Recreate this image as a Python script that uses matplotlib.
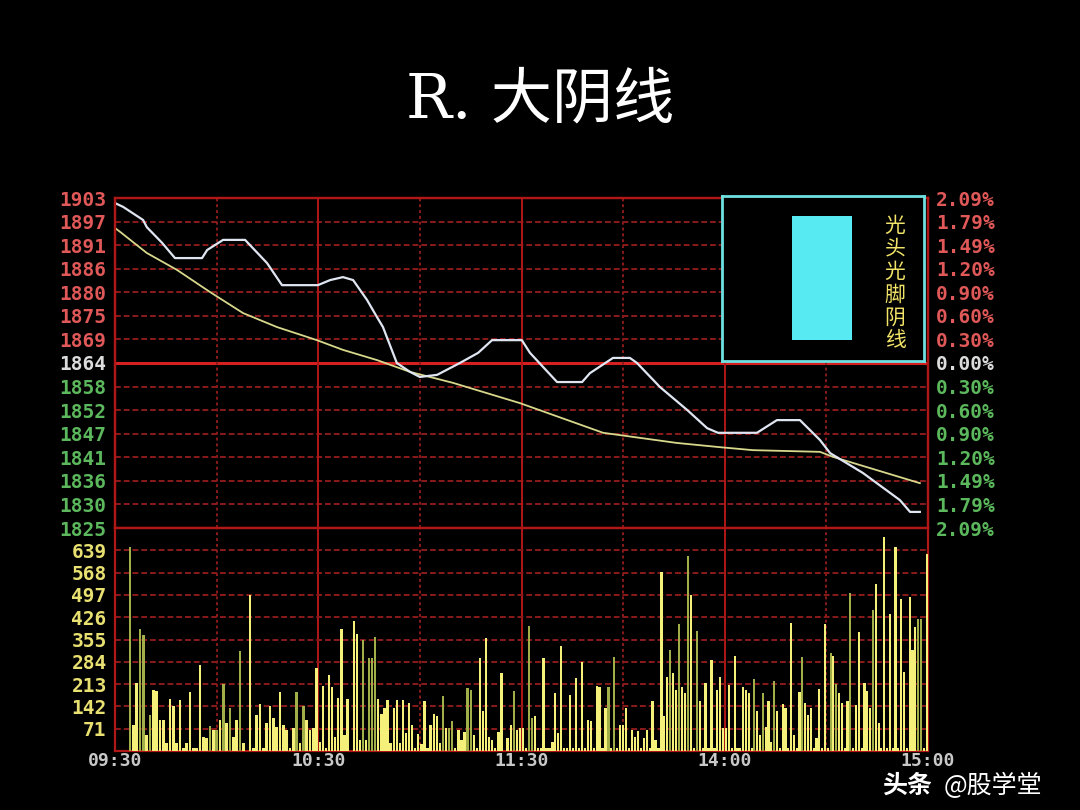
import numpy as np
import matplotlib
matplotlib.use("Agg")
import matplotlib.pyplot as plt
from matplotlib.patches import Rectangle

plt.rcParams['font.family'] = ['DejaVu Sans', 'Noto Sans CJK SC']

# ---------------- data ----------------
title = "R. 大阴线"
legend_label = "光头光脚阴线"
watermark_a = "头条"
watermark_b = "@股学堂"

price_top = 1903
price_bottom = 1825
price_labels = ["1903", "1897", "1891", "1886", "1880", "1875", "1869", "1864",
                "1858", "1852", "1847", "1841", "1836", "1830", "1825"]
pct_labels = ["2.09%", "1.79%", "1.49%", "1.20%", "0.90%", "0.60%", "0.30%", "0.00%",
              "0.30%", "0.60%", "0.90%", "1.20%", "1.49%", "1.79%", "2.09%"]
vol_labels = ["639", "568", "497", "426", "355", "284", "213", "142", "71"]
vol_step = 71
time_labels = ["09:30", "10:30", "11:30", "14:00", "15:00"]
session_minutes = 240

price_minutes = [0, 2.4, 8.3, 9.4, 13.9, 17.7, 25.7, 27.2, 31.9, 38.4, 44.9, 49.3, 59.9,
                 63.5, 67.3, 70.3, 74.4, 77.3, 79.1, 83.2, 87.1, 90.0, 95.1, 101.8, 107.2,
                 111.3, 120.1, 122.5, 130.5, 137.9, 140.2, 147.0, 152.0, 154.1, 160.9,
                 168.9, 174.8, 178.0, 189.5, 195.4, 202.2, 208.1, 211.1, 220.8, 231.7,
                 234.7, 237.6]
price_values = [1901.8, 1900.9, 1897.8, 1896.1, 1892.4, 1888.8, 1888.8, 1890.7, 1893.1,
                1893.1, 1887.6, 1882.4, 1882.4, 1883.6, 1884.3, 1883.6, 1878.9, 1874.9,
                1872.5, 1864.0, 1861.9, 1860.7, 1861.2, 1864.0, 1866.4, 1869.4, 1869.4,
                1866.4, 1859.5, 1859.5, 1861.6, 1865.2, 1865.2, 1864.0, 1858.3, 1852.9,
                1848.6, 1847.5, 1847.5, 1850.5, 1850.5, 1845.8, 1842.7, 1838.0, 1831.6,
                1828.8, 1828.8]

avg_minutes = [0, 1.5, 9.4, 18.3, 28.0, 37.8, 47.8, 59.6, 67.3, 77.3, 87.1, 99.8, 119.6,
               144.1, 165.9, 178.6, 188.3, 208.1, 212.0, 237.6]
avg_values = [1895.9, 1895.0, 1890.0, 1886.0, 1880.8, 1875.8, 1872.5, 1869.4, 1867.1,
              1864.7, 1861.9, 1859.3, 1854.5, 1847.5, 1845.1, 1844.1, 1843.4, 1843.0,
              1841.8, 1835.6]

vol_0930 = [0, 0, 0, 0, 650, 83, 218, 388, 369, 52, 115, 195, 190, 99, 99, 25, 165, 142,
            25, 161, 10, 25, 187, 10, 10, 274, 46, 41, 80, 68, 68, 99, 214, 89, 136, 46,
            99, 319, 25, 0, 496, 10, 115, 150, 10, 89, 144, 105, 78, 189, 83, 68, 10, 73,
            187, 25, 144, 99, 68, 73, 263]
vol_1030 = [30, 208, 10, 242, 203, 46, 168, 390, 52, 165, 0, 415, 374, 36, 353, 36, 295,
            295, 364, 165, 118, 136, 163, 25, 136, 161, 25, 161, 57, 152, 83, 10, 55, 23,
            158, 10, 83, 118, 110, 25, 176, 73, 73, 97, 10, 66, 36, 62, 199, 195, 52, 10,
            295, 126, 359, 46, 36, 10, 62, 248, 0, 41, 83, 192, 68, 73]
vol_1130 = [73, 10, 398, 105, 112, 10, 10, 295, 10, 10, 30, 186, 57, 334, 10, 10, 179, 10,
            232, 10, 284, 10, 99, 94, 10, 207, 205, 10, 136, 203, 10, 300, 10, 83, 83, 136,
            10, 68, 46, 64, 10, 41, 68, 10, 158, 36, 10, 570, 110, 237, 321, 248, 195, 404,
            205, 184, 620, 496, 10, 383, 158, 10, 218, 10, 290, 10, 195, 237, 73]
vol_1400 = [73, 210, 10, 302, 10, 10, 203, 195, 184, 10, 228, 126, 52, 186, 78, 158, 30,
            224, 126, 10, 150, 136, 10, 406, 52, 10, 189, 298, 154, 115, 136, 10, 41, 197,
            10, 403, 10, 311, 302, 214, 186, 152, 10, 158, 503, 10, 147, 380, 10, 218, 190,
            136, 450, 533, 89, 10, 681, 10, 436, 10, 651, 10, 483, 250, 10, 489, 321, 396,
            419, 419, 10, 626]
# indices of bars drawn in the darker (selling) tone
down_0930 = [4, 7, 8, 10, 28, 30, 32, 34, 37, 54, 56]
down_1030 = [14, 16, 17, 18, 40, 42, 43, 48, 49, 63]
down_1130 = [2, 3, 29, 31, 50, 53, 56, 59]
down_1400 = [10, 13, 17, 27, 37, 39, 44, 52, 68, 69]

# ---------------- style ----------------
BG = "black"
GRID_SOLID = "#b01818"
GRID_DASH = "#8a1a1a"
RED_TXT = "#e05858"
WHITE_TXT = "#dcdcdc"
GREEN_TXT = "#5cb85c"
YEL_TXT = "#e8e070"
MONO = dict(family="DejaVu Sans Mono", weight="bold", size=14)

W, H = 1080, 810
fig = plt.figure(figsize=(W / 100, H / 100), dpi=100, facecolor=BG)


def fx(px):
    return px / W


def fy(py):
    return 1 - py / H


L, R = 115, 928
ax = fig.add_axes([fx(L), fy(528), fx(R - L), (528 - 198) / H], facecolor=BG)
axv = fig.add_axes([fx(L), fy(751), fx(R - L), (751 - 528) / H], facecolor=BG)

# ---- price panel ----
ax.set_xlim(0, session_minutes)
ax.set_ylim(price_bottom, price_top)
ticks = np.linspace(price_top, price_bottom, len(price_labels))
mid = len(price_labels) // 2
for i, t in enumerate(ticks):
    if i == mid:
        ax.axhline(t, color="#d42020", lw=2.2, zorder=1)
    elif 0 < i < len(ticks) - 1:
        ax.axhline(t, color=GRID_DASH, lw=1.4, ls=(0, (3, 1.5)), zorder=1)
for k in range(1, 8):
    m = k * 30
    if k % 2 == 0:
        ax.axvline(m, color=GRID_SOLID, lw=1.4, zorder=1)
        axv.axvline(m, color=GRID_SOLID, lw=1.4, zorder=1)
    else:
        ax.axvline(m, color=GRID_DASH, lw=1.4, ls=(0, (1.5, 1.5)), zorder=1)
        axv.axvline(m, color=GRID_DASH, lw=1.4, ls=(0, (1.5, 1.5)), zorder=1)

ax.plot(avg_minutes, avg_values, color="#d8d88c", lw=1.3, zorder=3)
ax.plot(price_minutes, price_values, color="#dfe6f2", lw=1.6, zorder=4)

ax.set_xticks([])
ax.set_yticks(ticks)
ax.set_yticklabels(price_labels, **MONO)
ax.tick_params(axis="y", length=0, pad=6)
for i, lab in enumerate(ax.get_yticklabels()):
    lab.set_color(RED_TXT if i < mid else (WHITE_TXT if i == mid else GREEN_TXT))

axr = ax.twinx()
axr.set_ylim(price_bottom, price_top)
axr.set_yticks(ticks)
axr.set_yticklabels(pct_labels, **MONO)
axr.tick_params(axis="y", length=0, pad=6)
for i, lab in enumerate(axr.get_yticklabels()):
    lab.set_color(RED_TXT if i < mid else (WHITE_TXT if i == mid else GREEN_TXT))

for a in (ax, axr):
    for s in a.spines.values():
        s.set_color(GRID_SOLID)
        s.set_linewidth(1.6)

# ---- volume panel ----
vmax = vol_step * (len(vol_labels) + 1)
axv.set_xlim(0, session_minutes)
axv.set_ylim(0, vmax)
vticks = [vol_step * (len(vol_labels) - i) for i in range(len(vol_labels))]
for t in vticks:
    axv.axhline(t, color=GRID_DASH, lw=1.4, ls=(0, (3, 1.5)), zorder=1)

blocks = [vol_0930, vol_1030, vol_1130, vol_1400]
downs = [down_0930, down_1030, down_1130, down_1400]
for k, (vals, dn) in enumerate(zip(blocks, downs)):
    n = len(vals)
    xs = k * 60 + (np.arange(n) + 0.5) * 60 / n
    cols = ["#a2ae48" if i in dn else "#f4f07a" for i in range(n)]
    axv.bar(xs, vals, width=0.75 * 60 / n, color=cols, zorder=3)

axv.set_yticks(vticks)
axv.set_yticklabels(vol_labels, **MONO)
axv.tick_params(axis="y", length=0, pad=6, colors=YEL_TXT)
axv.set_xticks([0, 60, 120, 180, 240])
axv.set_xticklabels(time_labels, family="DejaVu Sans Mono", weight="bold", size=13)
axv.tick_params(axis="x", length=0, pad=1, colors="#c8c8c8")
for s in axv.spines.values():
    s.set_color(GRID_SOLID)
    s.set_linewidth(1.6)

# ---- legend box ----
lg = fig.add_axes([fx(722), fy(361), fx(924 - 722), (361 - 196) / H], facecolor=BG)
lg.set_xlim(0, 1)
lg.set_ylim(0, 1)
lg.set_xticks([])
lg.set_yticks([])
for s in lg.spines.values():
    s.set_color("#6ee0e0")
    s.set_linewidth(2)
lg.add_patch(Rectangle(((792 - 722) / 202, (361 - 340) / 165), 60 / 202, 124 / 165,
                       facecolor="#58eaf2", edgecolor="none"))
lg.text((895 - 722) / 202, (361 - 283) / 165, "\n".join(legend_label), color="#f2e468",
        family=["Noto Sans CJK SC"], fontsize=15, ha="center", va="center",
        linespacing=1.05)

# ---- title & watermark ----
fig.text(0.5, fy(100), title, color="white", fontsize=44,
         family=["DejaVu Serif", "Noto Sans CJK SC"], ha="center", va="center")
fig.text(fx(882), fy(786), watermark_a, color="white", fontsize=18, weight="bold",
         family=["Noto Sans CJK SC"], ha="left", va="center")
fig.text(fx(944), fy(786), watermark_b, color="white", fontsize=18,
         family=["Noto Sans CJK SC"], ha="left", va="center")

fig.savefig("out.png", dpi=100, facecolor=BG)
